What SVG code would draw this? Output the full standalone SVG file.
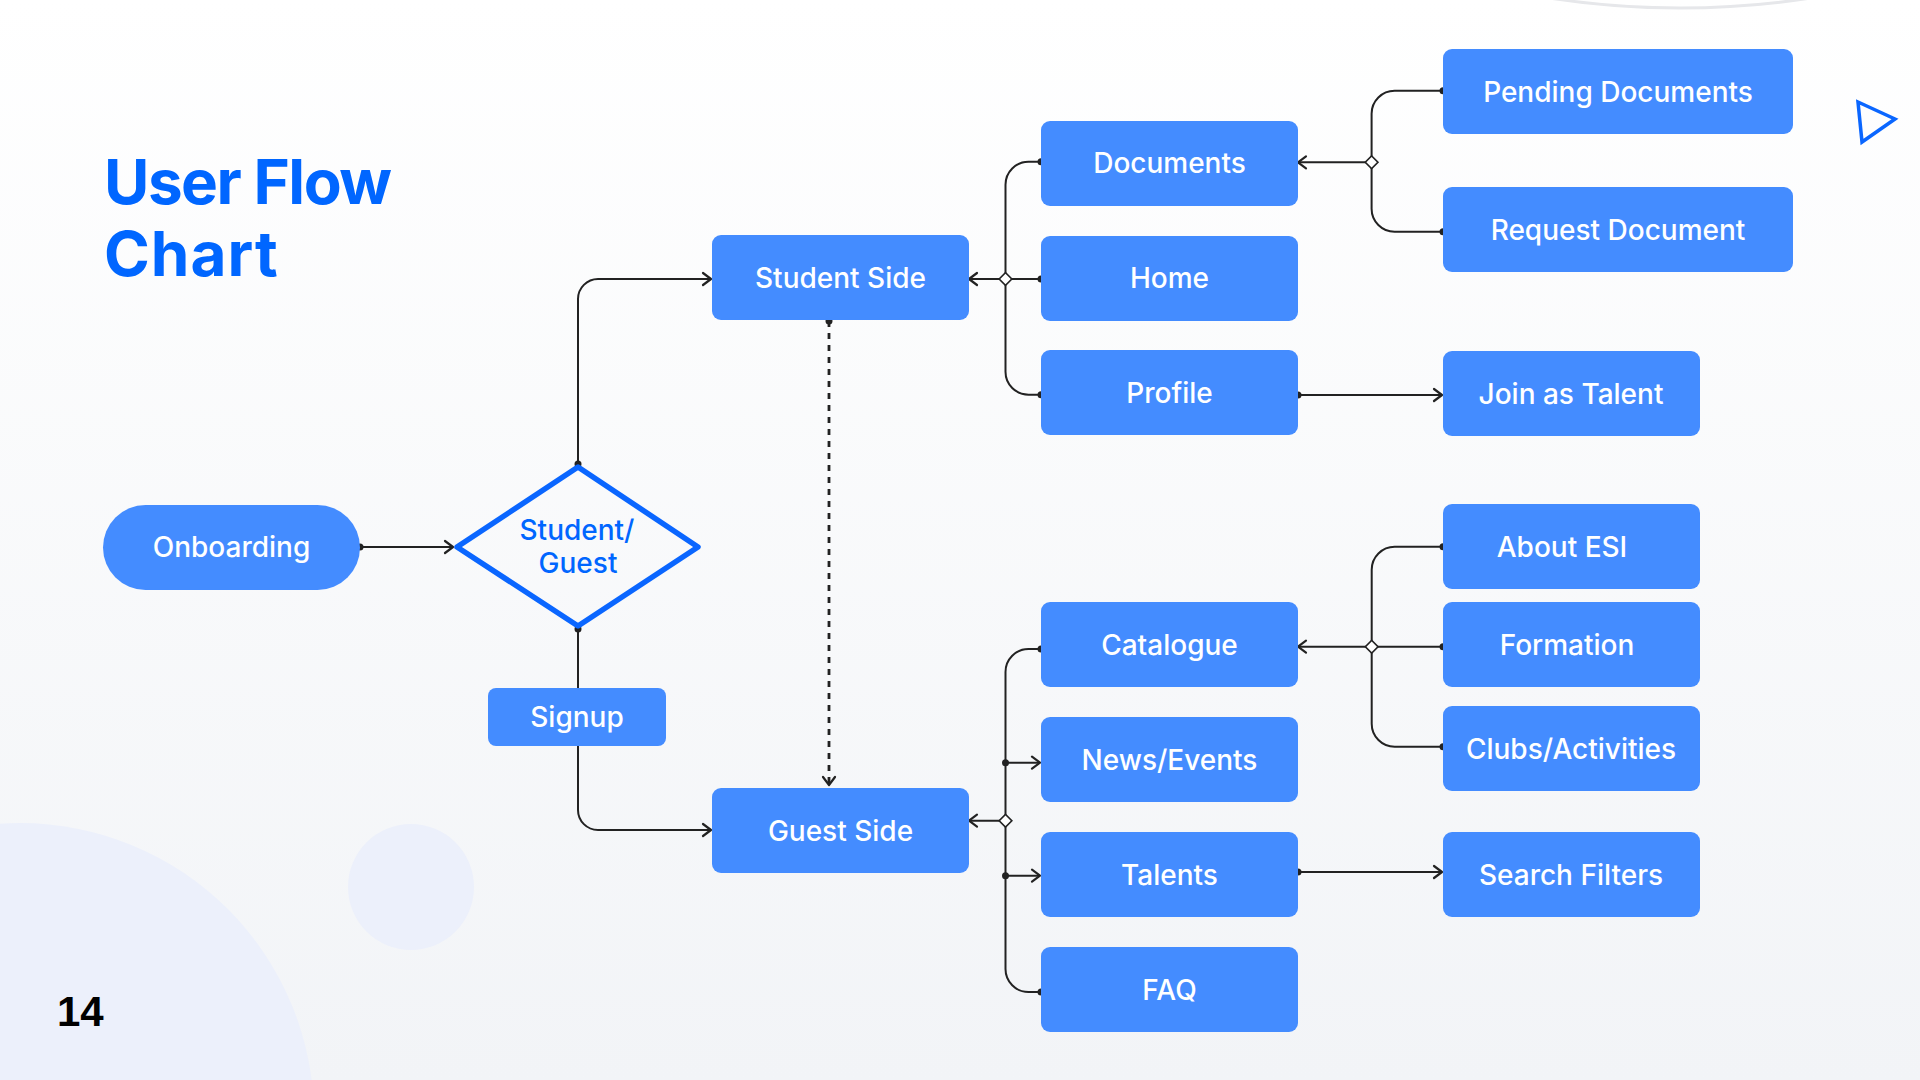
<svg xmlns="http://www.w3.org/2000/svg" width="1920" height="1080" viewBox="0 0 1920 1080">
  <defs>
    <linearGradient id="bg" x1="0" y1="0" x2="0" y2="1">
      <stop offset="0" stop-color="#ffffff"/>
      <stop offset="1" stop-color="#f2f4f7"/>
    </linearGradient>
    <marker id="arrow" viewBox="-10 -8 12 16" refX="0" refY="0" markerWidth="12" markerHeight="16" markerUnits="userSpaceOnUse" orient="auto">
      <path d="M-8,-6 L0,0 L-8,6" fill="none" stroke="#222" stroke-width="2.2" stroke-linecap="round" stroke-linejoin="round"/>
    </marker>
    <marker id="dot" viewBox="-5 -5 10 10" refX="0" refY="0" markerWidth="10" markerHeight="10" markerUnits="userSpaceOnUse">
      <circle r="3.5" fill="#222"/>
    </marker>
    <style>
      .node rect { fill: #448cff; }
      .node text { fill: #ffffff; font-family: Inter, "Liberation Sans", sans-serif; font-size: 28px; font-weight: 500; text-anchor: middle; }
      .title { font-family: Inter, "Liberation Sans", sans-serif; font-size: 62px; font-weight: 700; fill: #0066ff; }
      .link { fill: none; stroke: #222; stroke-width: 2; }
      .dotted { fill: none; stroke: #222; stroke-width: 2.8; stroke-dasharray: 6 6; }
      .junction { fill: #ffffff; stroke: #222; stroke-width: 1.6; }
      .deco { fill: #ecf0fb; }
    </style>
  </defs>

  <!-- page background and decorative shapes -->
  <rect width="1920" height="1080" fill="url(#bg)"/>
  <circle class="deco" cx="20" cy="1117" r="294"/>
  <circle class="deco" cx="411" cy="887" r="63"/>
  <circle cx="1680" cy="-842" r="850" fill="none" stroke="#e6e7ea" stroke-width="3"/>
  <polygon points="1858,102 1895,119 1862,142" fill="none" stroke="#0a66ff" stroke-width="3.5" stroke-linejoin="miter"/>

  <!-- title and page number -->
  <text class="title" x="104" y="204" letter-spacing="-1.5">User Flow</text>
  <text class="title" x="104" y="276" letter-spacing="1">Chart</text>
  <text x="57" y="1026" font-family="'Liberation Sans', sans-serif" font-size="42" font-weight="700" fill="#000">14</text>

  <!-- connectors -->
  <g id="connectors">
    <path class="link" d="M360,547 H453" marker-start="url(#dot)" marker-end="url(#arrow)"/>
    <path class="link" d="M578,464 V299 A20,20 0 0 1 598,279 H711" marker-start="url(#dot)" marker-end="url(#arrow)"/>
    <path class="link" d="M578,629 V810 A20,20 0 0 0 598,830 H711" marker-start="url(#dot)" marker-end="url(#arrow)"/>
    <path class="dotted" d="M829,321 V785" marker-start="url(#dot)" marker-end="url(#arrow)"/>

    <!-- student side branches -->
    <path class="link" d="M1041,161.7 H1028.5 A23,23 0 0 0 1005.5,184.7 V371.7 A23,23 0 0 0 1028.5,394.7 H1041" marker-start="url(#dot)" marker-end="url(#dot)"/>
    <path class="link" d="M1041,279 H969" marker-start="url(#dot)" marker-end="url(#arrow)"/>
    <rect class="junction" x="-4.5" y="-4.5" width="9" height="9" transform="translate(1005.5,279) rotate(45)"/>

    <!-- documents branches -->
    <path class="link" d="M1443,90.7 H1394.6 A23,23 0 0 0 1371.6,113.7 V208.7 A23,23 0 0 0 1394.6,231.7 H1443" marker-start="url(#dot)" marker-end="url(#dot)"/>
    <path class="link" d="M1371.6,162.3 H1298" marker-end="url(#arrow)"/>
    <rect class="junction" x="-4.5" y="-4.5" width="9" height="9" transform="translate(1371.6,162.3) rotate(45)"/>

    <!-- profile to join as talent -->
    <path class="link" d="M1298,395 H1442" marker-start="url(#dot)" marker-end="url(#arrow)"/>

    <!-- guest side branches -->
    <path class="link" d="M1041,649 H1028.5 A23,23 0 0 0 1005.5,672 V969 A23,23 0 0 0 1028.5,992 H1041" marker-start="url(#dot)" marker-end="url(#dot)"/>
    <path class="link" d="M1005.5,820.7 H969" marker-end="url(#arrow)"/>
    <path class="link" d="M1005.5,762.7 H1040" marker-start="url(#dot)" marker-end="url(#arrow)"/>
    <path class="link" d="M1005.5,875.7 H1040" marker-start="url(#dot)" marker-end="url(#arrow)"/>
    <rect class="junction" x="-4.5" y="-4.5" width="9" height="9" transform="translate(1005.5,820.7) rotate(45)"/>

    <!-- catalogue branches -->
    <path class="link" d="M1443,546.7 H1394.7 A23,23 0 0 0 1371.7,569.7 V723.7 A23,23 0 0 0 1394.7,746.7 H1443" marker-start="url(#dot)" marker-end="url(#dot)"/>
    <path class="link" d="M1443,646.7 H1298" marker-start="url(#dot)" marker-end="url(#arrow)"/>
    <rect class="junction" x="-4.5" y="-4.5" width="9" height="9" transform="translate(1371.7,646.7) rotate(45)"/>

    <!-- talents to search filters -->
    <path class="link" d="M1298,872 H1442" marker-start="url(#dot)" marker-end="url(#arrow)"/>
  </g>

  <!-- nodes -->
  <g id="onboarding" class="node">
    <rect x="103" y="505" width="257" height="85" rx="42.5"/>
    <text x="231.5" y="557">Onboarding</text>
  </g>
  <g id="student-guest">
    <path d="M578,467 L698,547 L578,626 L457,547 Z" fill="none" stroke="#0a66ff" stroke-width="5.5" stroke-linejoin="round"/>
    <text x="577" y="540" font-family="Inter, 'Liberation Sans', sans-serif" font-size="28" font-weight="500" fill="#0066ff" text-anchor="middle">Student/</text>
    <text x="578" y="573" font-family="Inter, 'Liberation Sans', sans-serif" font-size="28" font-weight="500" fill="#0066ff" text-anchor="middle">Guest</text>
  </g>
  <g id="signup" class="node">
    <rect x="488" y="688" width="178" height="58" rx="8"/>
    <text x="577" y="727">Signup</text>
  </g>
  <g id="student-side" class="node">
    <rect x="712" y="235" width="257" height="85" rx="9"/>
    <text x="840.5" y="287.5">Student Side</text>
  </g>
  <g id="guest-side" class="node">
    <rect x="712" y="788" width="257" height="85" rx="9"/>
    <text x="840.5" y="840.5">Guest Side</text>
  </g>
  <g id="documents" class="node">
    <rect x="1041" y="121" width="257" height="85" rx="9"/>
    <text x="1169.5" y="172.5">Documents</text>
  </g>
  <g id="home" class="node">
    <rect x="1041" y="236" width="257" height="85" rx="9"/>
    <text x="1169.5" y="288">Home</text>
  </g>
  <g id="profile" class="node">
    <rect x="1041" y="350" width="257" height="85" rx="9"/>
    <text x="1169.5" y="402.5">Profile</text>
  </g>
  <g id="catalogue" class="node">
    <rect x="1041" y="602" width="257" height="85" rx="9"/>
    <text x="1169.5" y="654.5">Catalogue</text>
  </g>
  <g id="news-events" class="node">
    <rect x="1041" y="717" width="257" height="85" rx="9"/>
    <text x="1169.5" y="769.5">News/Events</text>
  </g>
  <g id="talents" class="node">
    <rect x="1041" y="832" width="257" height="85" rx="9"/>
    <text x="1169.5" y="884.5">Talents</text>
  </g>
  <g id="faq" class="node">
    <rect x="1041" y="947" width="257" height="85" rx="9"/>
    <text x="1169.5" y="999.5">FAQ</text>
  </g>
  <g id="pending-documents" class="node">
    <rect x="1443" y="49" width="350" height="85" rx="9"/>
    <text x="1618" y="101.5">Pending Documents</text>
  </g>
  <g id="request-document" class="node">
    <rect x="1443" y="187" width="350" height="85" rx="9"/>
    <text x="1618" y="239.5">Request Document</text>
  </g>
  <g id="join-as-talent" class="node">
    <rect x="1443" y="351" width="257" height="85" rx="9"/>
    <text x="1571" y="403.5">Join as Talent</text>
  </g>
  <g id="about-esi" class="node">
    <rect x="1443" y="504" width="257" height="85" rx="9"/>
    <text x="1562" y="556.5">About ESI</text>
  </g>
  <g id="formation" class="node">
    <rect x="1443" y="602" width="257" height="85" rx="9"/>
    <text x="1567" y="654.5">Formation</text>
  </g>
  <g id="clubs-activities" class="node">
    <rect x="1443" y="706" width="257" height="85" rx="9"/>
    <text x="1571" y="758.5">Clubs/Activities</text>
  </g>
  <g id="search-filters" class="node">
    <rect x="1443" y="832" width="257" height="85" rx="9"/>
    <text x="1571" y="884.5">Search Filters</text>
  </g>
</svg>
